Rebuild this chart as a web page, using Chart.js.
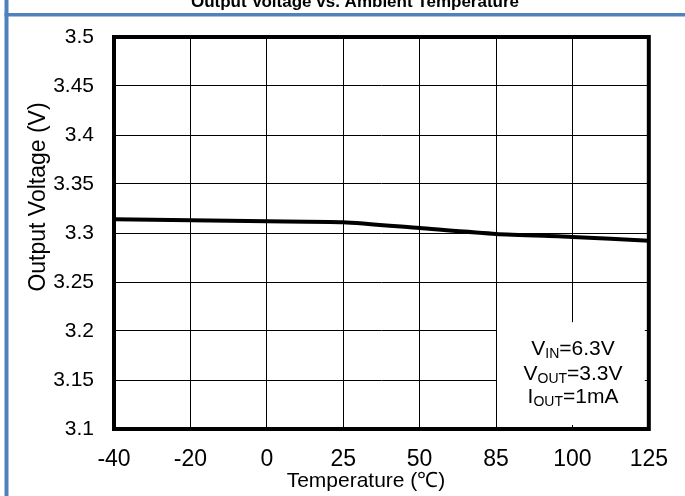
<!DOCTYPE html>
<html>
<head>
<meta charset="utf-8">
<script src="https://cdn.jsdelivr.net/npm/chart.js@4.4.1/dist/chart.umd.min.js"></script>
<style>
  html, body { margin: 0; padding: 0; background: #fff; }
  #wrap { width: 685px; height: 496px; position: relative; }
</style>
</head>
<body>
<div id="wrap"><canvas id="chart"></canvas></div>
<script>
const temperatures = ['-40', '-20', '0', '25', '50', '85', '100', '125'];
const outputVoltage = [3.314, 3.313, 3.312, 3.311, 3.305, 3.299, 3.296, 3.292];
const yTicks = [3.1, 3.15, 3.2, 3.25, 3.3, 3.35, 3.4, 3.45, 3.5];

const chartTitle = 'Output Voltage vs. Ambient Temperature';
const xTitle = 'Temperature (\u2103)';
const yTitle = 'Output Voltage (V)';
const conditions = [
  ['V', 'IN', '=6.3V'],
  ['V', 'OUT', '=3.3V'],
  ['I', 'OUT', '=1mA'],
];

const font = '"Liberation Sans", Arial, sans-serif';
const blue = '#4f81bd';

const decorPlugin = {
  id: 'decor',
  beforeDraw(chart) {
    const ctx = chart.ctx;
    ctx.save();
    ctx.fillStyle = '#fff';
    ctx.fillRect(0, 0, chart.width, chart.height);

    // blue frame, left and top
    ctx.fillStyle = blue;
    ctx.fillRect(4.5, 0, 4, chart.height);
    ctx.fillRect(4.5, 13, chart.width - 4.5, 3.5);

    // title, cut off at the top
    ctx.fillStyle = '#000';
    ctx.font = `bold 17px ${font}`;
    ctx.textAlign = 'center';
    ctx.textBaseline = 'alphabetic';
    ctx.fillText(chartTitle, 355, 7);

    // axis titles
    ctx.font = `21px ${font}`;
    ctx.textBaseline = 'middle';
    ctx.fillText(xTitle, 366, 481);
    ctx.font = `23px ${font}`;
    ctx.translate(39, 197);
    ctx.rotate(-Math.PI / 2);
    ctx.fillText(yTitle, 0, 0);
    ctx.restore();
  },
  afterDatasetsDraw(chart) {
    const ctx = chart.ctx;
    const area = chart.chartArea;
    const x = chart.scales.x;
    const y = chart.scales.y;

    ctx.save();
    // conditions box
    const left = x.getPixelForValue(5) + 1;
    const top = y.getPixelForValue(3.209);
    ctx.fillStyle = '#fff';
    ctx.fillRect(left, top, area.right - 4 - left, area.bottom - 4 - top);

    ctx.fillStyle = '#000';
    ctx.textBaseline = 'alphabetic';
    ctx.textAlign = 'left';
    const cx = 573;
    const baselines = [355, 380, 403];
    conditions.forEach(([main, sub, rest], i) => {
      ctx.font = `21px ${font}`;
      const w1 = ctx.measureText(main).width;
      const w3 = ctx.measureText(rest).width;
      ctx.font = `14px ${font}`;
      const w2 = ctx.measureText(sub).width;
      let px = cx - (w1 + w2 + w3) / 2;
      const by = baselines[i];
      ctx.font = `21px ${font}`;
      ctx.fillText(main, px, by);
      px += w1;
      ctx.font = `14px ${font}`;
      ctx.fillText(sub, px, by + 3);
      px += w2;
      ctx.font = `21px ${font}`;
      ctx.fillText(rest, px, by);
    });

    // plot frame
    ctx.strokeStyle = '#000';
    ctx.lineWidth = 4;
    ctx.strokeRect(area.left, area.top, area.right - area.left, area.bottom - area.top);
    ctx.restore();
  },
};

new Chart(document.getElementById('chart'), {
  type: 'line',
  data: {
    labels: temperatures,
    datasets: [{
      label: 'Output Voltage',
      data: outputVoltage,
      borderColor: '#000',
      borderWidth: 4,
      pointRadius: 0,
      tension: 0.2,
      fill: false,
    }],
  },
  options: {
    responsive: true,
    maintainAspectRatio: false,
    animation: false,
    devicePixelRatio: 1,
    layout: { padding: { top: 37, right: 32, left: 0, bottom: 0 } },
    plugins: {
      legend: { display: false },
      tooltip: { enabled: false },
    },
    scales: {
      x: {
        type: 'category',
        offset: false,
        grid: { color: '#000', lineWidth: 1, drawTicks: false },
        border: { display: false },
        ticks: {
          color: '#000',
          font: { family: font, size: 23 },
          padding: 17,
          maxRotation: 0,
          autoSkip: false,
        },
        afterFit(scale) { scale.height = 67; },
      },
      y: {
        min: 3.1,
        max: 3.5,
        grid: { color: '#000', lineWidth: 1, drawTicks: false },
        border: { display: false },
        afterBuildTicks(scale) { scale.ticks = yTicks.map((v) => ({ value: v })); },
        ticks: {
          color: '#000',
          font: { family: font, size: 21 },
          padding: 20,
          callback: (v) => String(+Number(v).toFixed(2)),
        },
        afterFit(scale) { scale.width = 114; },
      },
    },
  },
  plugins: [decorPlugin],
});
</script>
</body>
</html>
